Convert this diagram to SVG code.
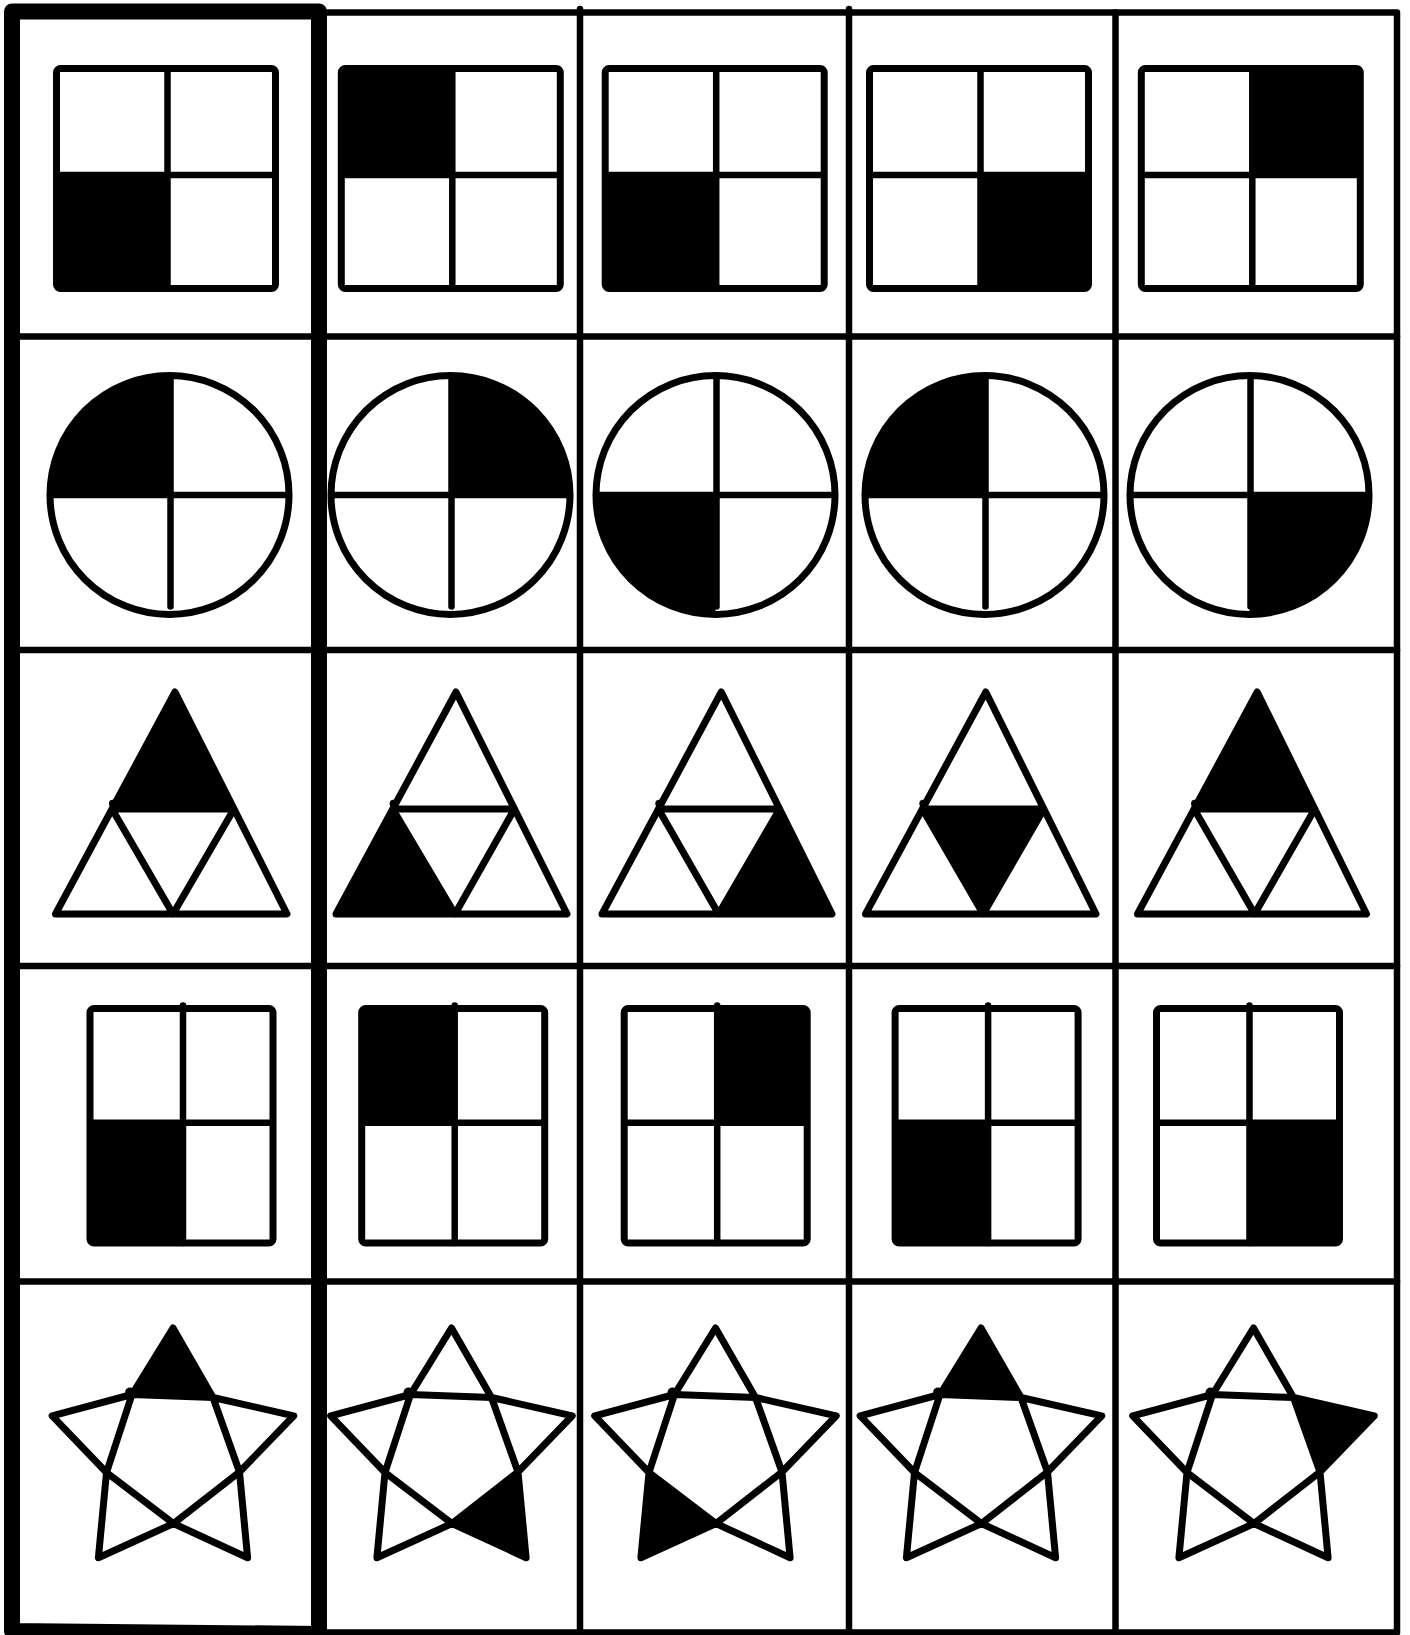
<svg xmlns="http://www.w3.org/2000/svg" xmlns:xlink="http://www.w3.org/1999/xlink" width="1410" height="1635" viewBox="0 0 1410 1635">
<style>
.bg{fill:#fff}
.s{fill:none;stroke:#000;stroke-width:7;stroke-linejoin:round;stroke-linecap:round}
.d{fill:none;stroke:#000;stroke-width:6.5;stroke-linecap:butt}
.dr{fill:none;stroke:#000;stroke-width:6.5;stroke-linecap:round}
.f{fill:#000;stroke:none}
.g{fill:none;stroke:#000;stroke-width:6.5;stroke-linecap:round;stroke-linejoin:round}
.gt{fill:none;stroke:#000;stroke-width:16;stroke-linejoin:round}
</style>
<defs>
<g id="star">
<path class="s" d="M0,-127 L40,-57.5 L120.8,-39.2 L66.5,17 L74.6,102.7 L0.5,68.5 L-74.6,102.7 L-66.5,17.5 L-120.8,-39.2 L-41,-60.5 Z M-41,-60.5 L40,-57.5 L66.5,17 L0.5,68.5 L-66.5,17.5 Z"/>
<circle class="f" cx="-43" cy="-62.5" r="5"/>
</g>
</defs>
<rect class="bg" x="0" y="0" width="1410" height="1635"/>

<!-- Row 1: squares -->
<g id="r1c1">
<rect class="f" x="56.5" y="175" width="111" height="113.5"/>
<rect class="s" x="56.5" y="68.5" width="219" height="220" rx="4"/>
<path class="d" d="M167.5,68.5 V288.5 M56.5,175 H275.5"/>
</g>
<g id="r1c2">
<rect class="f" x="341.3" y="68.5" width="111" height="106.5"/>
<rect class="s" x="341.3" y="68.5" width="219" height="220" rx="4"/>
<path class="d" d="M452.3,68.5 V288.5 M341.3,175 H560.3"/>
</g>
<g id="r1c3">
<rect class="f" x="605.2" y="175" width="111" height="113.5"/>
<rect class="s" x="605.2" y="68.5" width="219" height="220" rx="4"/>
<path class="d" d="M716.2,68.5 V288.5 M605.2,175 H824.2"/>
</g>
<g id="r1c4">
<rect class="f" x="980.5" y="175" width="108" height="113.5"/>
<rect class="s" x="869.5" y="68.5" width="219" height="220" rx="4"/>
<path class="d" d="M980.5,68.5 V288.5 M869.5,175 H1088.5"/>
</g>
<g id="r1c5">
<rect class="f" x="1252.3" y="68.5" width="108" height="106.5"/>
<rect class="s" x="1141.3" y="68.5" width="219" height="220" rx="4"/>
<path class="d" d="M1252.3,68.5 V288.5 M1141.3,175 H1360.3"/>
</g>

<!-- Row 2: circles -->
<g id="r2c1">
<path class="f" d="M169.5,495 H50 A119.5,119.5 0 0 1 169.5,375.5 Z"/>
<circle class="s" cx="169.5" cy="495" r="119.5"/>
<path class="d" d="M50,495 H289"/>
<path class="dr" d="M170.5,379 V606.5"/>
</g>
<g id="r2c2">
<path class="f" d="M450.5,495 V375.5 A119.5,119.5 0 0 1 570,495 Z"/>
<circle class="s" cx="450.5" cy="495" r="119.5"/>
<path class="d" d="M331,495 H570"/>
<path class="dr" d="M451.5,379 V606.5"/>
</g>
<g id="r2c3">
<path class="f" d="M715.5,495 V614.5 A119.5,119.5 0 0 1 596,495 Z"/>
<circle class="s" cx="715.5" cy="495" r="119.5"/>
<path class="d" d="M596,495 H835"/>
<path class="dr" d="M716.5,379 V606.5"/>
</g>
<g id="r2c4">
<path class="f" d="M984.5,495 H865 A119.5,119.5 0 0 1 984.5,375.5 Z"/>
<circle class="s" cx="984.5" cy="495" r="119.5"/>
<path class="d" d="M865,495 H1104"/>
<path class="dr" d="M985.5,379 V606.5"/>
</g>
<g id="r2c5">
<path class="f" d="M1249.5,495 H1369 A119.5,119.5 0 0 1 1249.5,614.5 Z"/>
<circle class="s" cx="1249.5" cy="495" r="119.5"/>
<path class="d" d="M1130,495 H1369"/>
<path class="dr" d="M1250.5,379 V606.5"/>
</g>

<!-- Row 3: triangles -->
<g id="r3c1">
<polygon class="f" points="175,692 234.02,809 112.02,809"/>
<path class="s" d="M175,692 L287,914 L55.5,914 Z M112.02,809 H234.02 M112.02,809 L173,914 L234.02,809"/>
<circle class="f" cx="112.7" cy="803.5" r="3.8"/>
</g>
<g id="r3c2">
<polygon class="f" points="392.76,809 455,914 336,914"/>
<path class="s" d="M456,692 L567,914 L336,914 Z M392.76,809 H514.5 M392.76,809 L455,914 L514.5,809"/>
<circle class="f" cx="393.4" cy="803.5" r="3.8"/>
</g>
<g id="r3c3">
<polygon class="f" points="779.64,809 832,914 718.6,914"/>
<path class="s" d="M721.3,692 L832,914 L602,914 Z M658.43,809 H779.64 M658.43,809 L718.6,914 L779.64,809"/>
<circle class="f" cx="659.1" cy="803.5" r="3.8"/>
</g>
<g id="r3c4">
<polygon class="f" points="922.4,809 1043.88,809 983.2,914"/>
<path class="s" d="M985.8,692 L1096,914 L865.5,914 Z M922.4,809 H1043.88 M922.4,809 L983.2,914 L1043.88,809"/>
<circle class="f" cx="923.1" cy="803.5" r="3.8"/>
</g>
<g id="r3c5">
<polygon class="f" points="1257.2,692 1314.8,809 1194.12,809"/>
<path class="s" d="M1257.2,692 L1366.5,914 L1137.5,914 Z M1194.12,809 H1314.8 M1194.12,809 L1254.6,914 L1314.8,809"/>
<circle class="f" cx="1194.8" cy="803.5" r="3.8"/>
</g>

<!-- Row 4: tall rectangles -->
<g id="r4c1">
<rect class="f" x="90" y="1122.7" width="93" height="120.3"/>
<rect class="s" x="90" y="1008.5" width="183" height="234.5" rx="4"/>
<path class="d" d="M90,1122.7 H273"/>
<path class="dr" d="M183,1005.5 V1243"/>
</g>
<g id="r4c2">
<rect class="f" x="361.7" y="1008.5" width="93" height="114.2"/>
<rect class="s" x="361.7" y="1008.5" width="183" height="234.5" rx="4"/>
<path class="d" d="M361.7,1122.7 H544.7"/>
<path class="dr" d="M454.7,1005.5 V1243"/>
</g>
<g id="r4c3">
<rect class="f" x="717.2" y="1008.5" width="90" height="114.2"/>
<rect class="s" x="624.2" y="1008.5" width="183" height="234.5" rx="4"/>
<path class="d" d="M624.2,1122.7 H807.2"/>
<path class="dr" d="M717.2,1005.5 V1243"/>
</g>
<g id="r4c4">
<rect class="f" x="895.1" y="1122.7" width="93" height="120.3"/>
<rect class="s" x="895.1" y="1008.5" width="183" height="234.5" rx="4"/>
<path class="d" d="M895.1,1122.7 H1078.1"/>
<path class="dr" d="M988.1,1005.5 V1243"/>
</g>
<g id="r4c5">
<rect class="f" x="1249.5" y="1122.7" width="90" height="120.3"/>
<rect class="s" x="1156.5" y="1008.5" width="183" height="234.5" rx="4"/>
<path class="d" d="M1156.5,1122.7 H1339.5"/>
<path class="dr" d="M1249.5,1005.5 V1243"/>
</g>

<!-- Row 5: stars -->
<g id="r5c1" transform="translate(173,1455)">
<polygon class="f" points="0,-127 40,-57.5 -41,-60.5"/>
<use xlink:href="#star" href="#star"/>
</g>
<g id="r5c2" transform="translate(451.5,1455)">
<polygon class="f" points="66.5,17 74.6,102.7 0.5,68.5"/>
<use xlink:href="#star" href="#star"/>
</g>
<g id="r5c3" transform="translate(715.5,1455)">
<polygon class="f" points="0.5,68.5 -74.6,102.7 -66.5,17.5"/>
<use xlink:href="#star" href="#star"/>
</g>
<g id="r5c4" transform="translate(981,1455)">
<polygon class="f" points="0,-127 40,-57.5 -41,-60.5"/>
<use xlink:href="#star" href="#star"/>
</g>
<g id="r5c5" transform="translate(1253.5,1455)">
<polygon class="f" points="40,-57.5 120.8,-39.2 66.5,17"/>
<use xlink:href="#star" href="#star"/>
</g>

<!-- Grid -->
<g id="grid">
<path class="g" d="M319,12.5 H1397 V1632.5 H319"/>
<path class="g" d="M580,9 V1632 M849,9 V1632 M1115.5,12.5 V1632"/>
<path class="g" d="M12,336.5 H1397 M12,650 H1397 M12,966 H1397 M12,1281.5 H1397"/>
<path class="gt" d="M12,11.5 L319,11.5 L319,1634 L12,1631 Z"/>
</g>
</svg>
